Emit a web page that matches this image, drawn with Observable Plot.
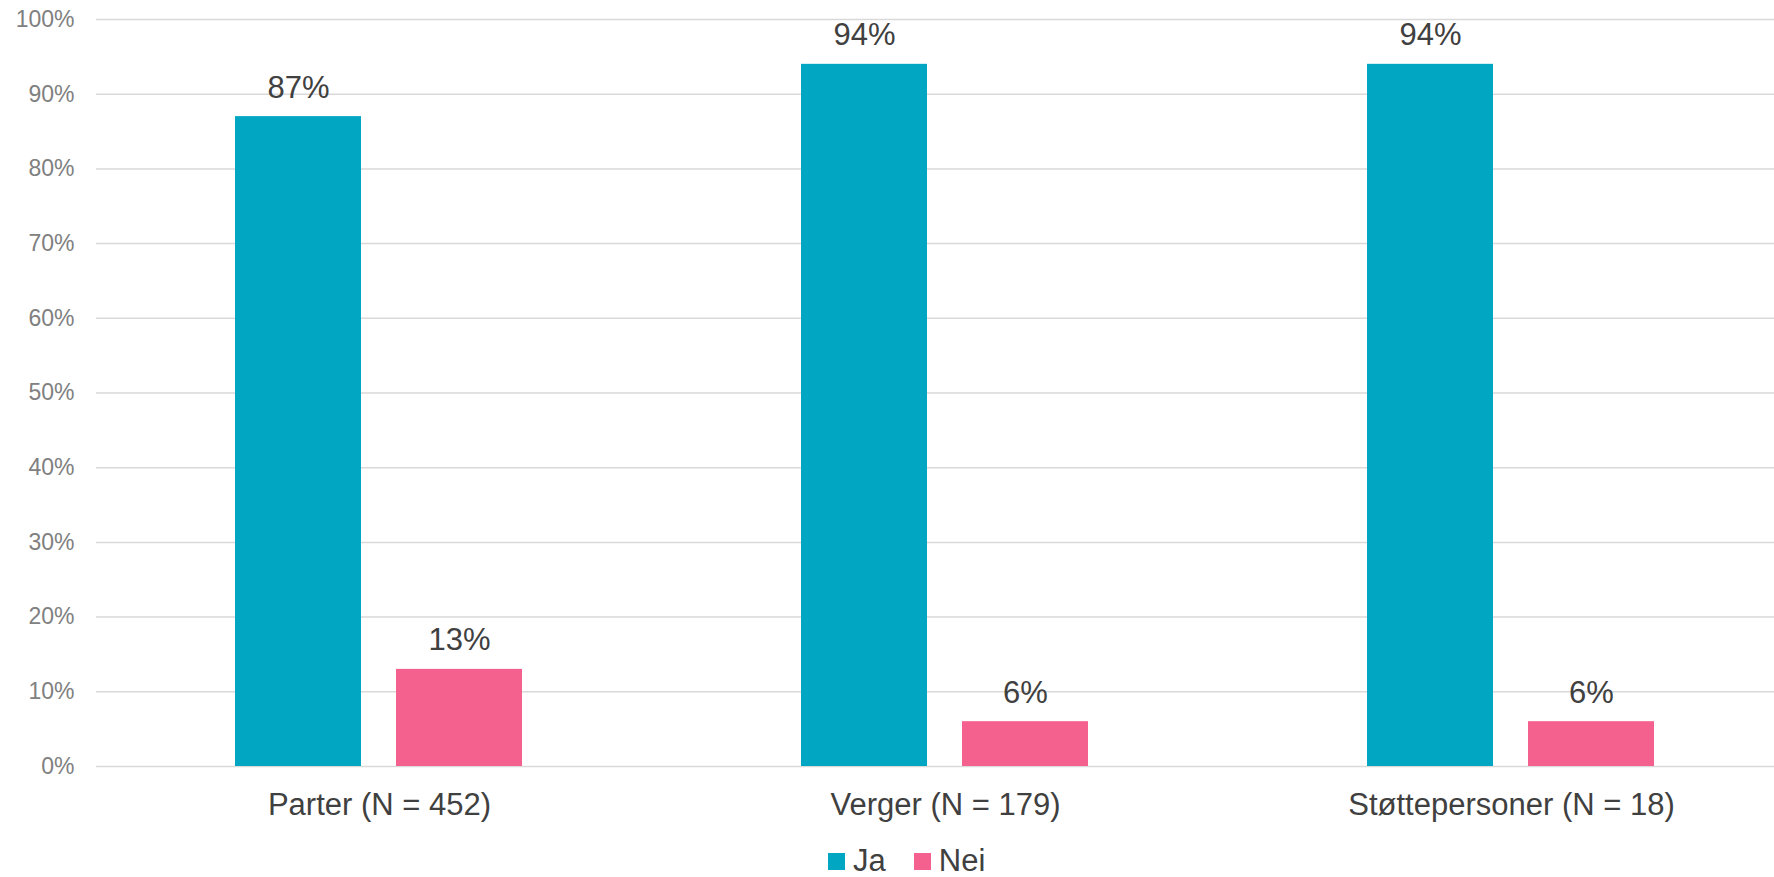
<!DOCTYPE html>
<html>
<head>
<meta charset="utf-8">
<script src="https://cdn.jsdelivr.net/npm/d3@7"></script>
<script src="https://cdn.jsdelivr.net/npm/@observablehq/plot@0.6"></script>
<style>
  html, body { margin: 0; padding: 0; background: #fff; }
  body { width: 1774px; height: 877px; position: relative; overflow: hidden; font-family: "Liberation Sans", Arial, sans-serif; }
  #chart { position: absolute; left: 0; top: 0; width: 1774px; height: 830px; overflow: hidden; }
  #chart svg { max-width: none !important; }
  #legend { position: absolute; left: 828px; top: 845px; height: 32px; line-height: 32px; display: flex; align-items: center; font-size: 31px; color: #404040; }
  .sw { width: 17px; height: 17px; display: inline-block; margin-right: 8px; }
  .item { display: flex; align-items: center; margin-right: 28px; }
</style>
</head>
<body>
<div id="chart"></div>
<div id="legend"></div>
<script>
const categories = ["Parter (N = 452)", "Verger (N = 179)", "Støttepersoner (N = 18)"];
const series = ["Ja", "Nei"];
const jaValues = [87, 94, 94];
const neiValues = [13, 6, 6];
const colors = ["#00A6C2", "#F4618F"];
const yTicks = [0, 10, 20, 30, 40, 50, 60, 70, 80, 90, 100];

const data = [];
categories.forEach((c, i) => {
  data.push({category: c, series: "Ja", value: jaValues[i]});
  data.push({category: c, series: "Nei", value: neiValues[i]});
});

const chart = Plot.plot({
  width: 1794,
  height: 830,
  marginLeft: 96,
  marginRight: 0,
  marginTop: 19,
  marginBottom: 64,
  style: {fontFamily: "'Liberation Sans', Arial, sans-serif", background: "#fff", maxWidth: "none"},
  fx: {domain: categories, padding: 0, label: null},
  x: {domain: series, paddingInner: 0.216, paddingOuter: 0.855, axis: null},
  y: {domain: [0, 100], axis: null},
  color: {domain: series, range: colors},
  marks: [
    Plot.gridY(yTicks, {stroke: "#D9D9D9", strokeOpacity: 1, strokeWidth: 1.5}),
    Plot.axisY({ticks: yTicks, tickSize: 0, tickPadding: 22, fontSize: 23, fill: "#808080", tickFormat: d => d + "%", label: null}),
    Plot.axisFx({anchor: "bottom", tickSize: 0, tickPadding: 26, fontSize: 31, fill: "#404040", label: null}),
    Plot.barY(data, {fx: "category", x: "series", y: "value", fill: "series"}),
    Plot.text(data, {fx: "category", x: "series", y: "value", text: d => d.value + "%", lineAnchor: "bottom", dy: -19, fontSize: 31, fill: "#404040"})
  ]
});
chart.style.maxWidth = "none";
document.getElementById("chart").appendChild(chart);

const legend = document.getElementById("legend");
series.forEach((s, i) => {
  const item = document.createElement("div");
  item.className = "item";
  const sw = document.createElement("span");
  sw.className = "sw";
  sw.style.background = colors[i];
  const t = document.createElement("span");
  t.textContent = s;
  item.appendChild(sw);
  item.appendChild(t);
  legend.appendChild(item);
});
</script>
</body>
</html>
